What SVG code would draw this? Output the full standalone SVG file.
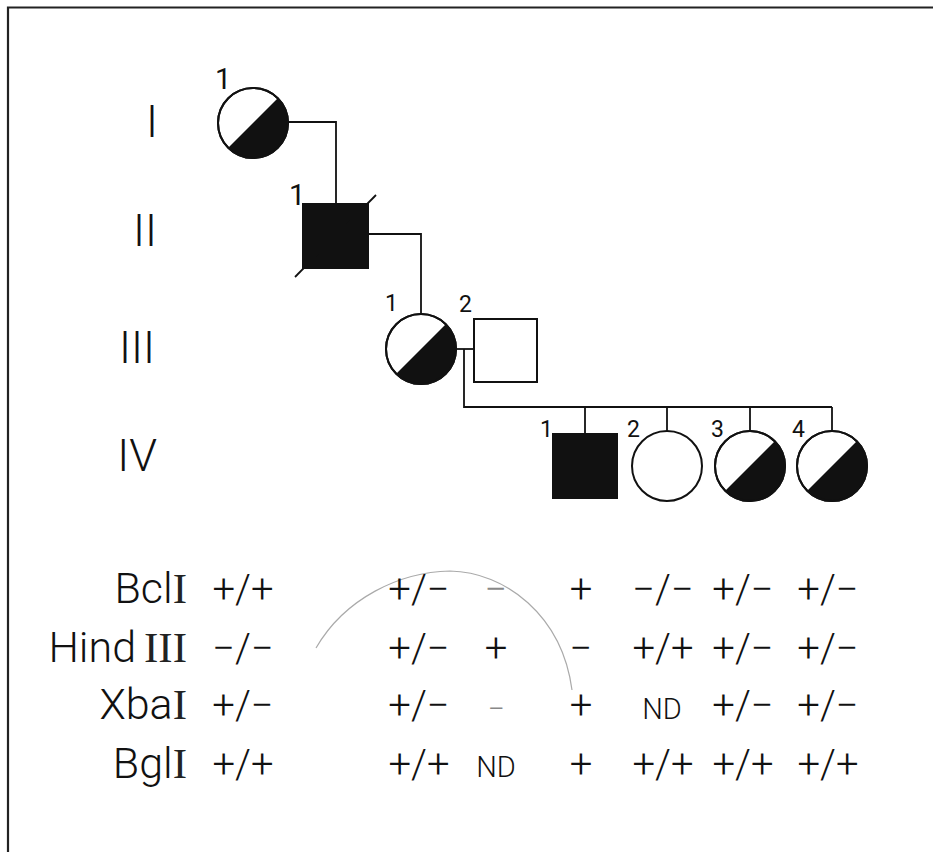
<svg xmlns="http://www.w3.org/2000/svg" xmlns:xlink="http://www.w3.org/1999/xlink" width="933" height="852" viewBox="0 0 933 852">
  <style>
    .sym { stroke: #111; stroke-width: 2; }
    .open { fill: #fff; }
    .solid { fill: #111; }
    .half { fill: #111; stroke: none; }
    .wire { fill: none; stroke: #111; stroke-width: 1.8; }
    .frame { fill: none; stroke: #222; stroke-width: 2.2; }
    .txt { font-family: Roboto, "Liberation Sans", Arial, sans-serif; font-weight: 300; fill: #111; }
    .gen { font-size: 45px; text-anchor: end; }
    .num1 { font-size: 29px; font-weight: 400; }
    .num2 { font-size: 23px; font-weight: 400; }
    .enz { font-size: 43px; text-anchor: end; }
    .rom { font-family: "Liberation Serif", "Times New Roman", serif; font-weight: normal; fill: #222; }
    .val { font-size: 40px; text-anchor: middle; }
    .nd { font-size: 29px; text-anchor: middle; }
    .faint { fill: #888; }
    .hair { fill: none; stroke: #aaa; stroke-width: 1.2; }
  </style>
  <defs>
    <!-- female, half-filled (lower-right half black) -->
    <g id="femHalf">
      <circle class="sym open" r="35"/>
      <path class="half" d="M-24.75,24.75 L24.75,-24.75 A35,35 0 0 1 -24.75,24.75 Z"/>
      <circle r="35" fill="none" stroke="#111" stroke-width="2"/>
    </g>
    <g id="femOpen">
      <circle class="sym open" r="35"/>
    </g>
  </defs>

  <rect width="933" height="852" fill="#fff"/>

  <!-- frame -->
  <path class="frame" d="M8,852 L8,7.5 L933,7.5"/>

  <!-- generation labels -->
  <g id="generations" class="txt gen">
    <text x="158" y="137">I</text>
    <text x="157" y="246">II</text>
    <text x="155" y="363">III</text>
    <text x="157" y="471">IV</text>
  </g>

  <!-- connectors -->
  <g id="connectors" class="wire">
    <path d="M288,122 H336 V204"/>
    <path d="M368,234 H421 V314"/>
    <path d="M456,349 H474"/>
    <path d="M464,349 V407 H832"/>
    <path d="M585,407 V434"/>
    <path d="M667,407 V431"/>
    <path d="M750,407 V431"/>
    <path d="M832,407 V431"/>
  </g>

  <!-- generation I -->
  <g id="I-1">
    <use xlink:href="#femHalf" x="253" y="123"/>
    <text class="txt num1" x="215" y="89">1</text>
  </g>

  <!-- generation II -->
  <g id="II-1">
    <rect class="sym solid" x="303" y="204" width="65" height="64"/>
    <line x1="295" y1="277" x2="376" y2="195" stroke="#111" stroke-width="1.8"/>
    <text class="txt num1" x="289" y="205">1</text>
  </g>

  <!-- generation III -->
  <g id="III-1">
    <use xlink:href="#femHalf" x="421" y="349"/>
    <text class="txt num2" x="385" y="311">1</text>
  </g>
  <g id="III-2">
    <rect class="sym open" x="474" y="319" width="63" height="63"/>
    <text class="txt num2" x="459" y="312">2</text>
  </g>

  <!-- generation IV -->
  <g id="IV-1">
    <rect class="sym solid" x="553" y="434" width="64" height="64"/>
    <text class="txt num2" x="540" y="437">1</text>
  </g>
  <g id="IV-2">
    <use xlink:href="#femOpen" x="667" y="466"/>
    <text class="txt num2" x="627" y="437">2</text>
  </g>
  <g id="IV-3">
    <use xlink:href="#femHalf" x="750" y="466"/>
    <text class="txt num2" x="711" y="437">3</text>
  </g>
  <g id="IV-4">
    <use xlink:href="#femHalf" x="832" y="466"/>
    <text class="txt num2" x="792" y="437">4</text>
  </g>

  <!-- stray hairline arc across the table -->
  <path class="hair" d="M316,648 C345,598 400,572 450,571 C505,572 562,615 572,690"/>

  <!-- restriction enzyme names -->
  <g id="enzymes" class="txt enz">
    <text x="187" y="603">Bcl<tspan class="rom">I</tspan></text>
    <text x="187" y="662">Hind<tspan class="rom" dx="8">III</tspan></text>
    <text x="187" y="719">Xba<tspan class="rom">I</tspan></text>
    <text x="187" y="778">Bgl<tspan class="rom">I</tspan></text>
  </g>

  <!-- genotypes per individual -->
  <g id="genotypes" class="txt val">
    <!-- I-1 -->
    <text x="243" y="603">+/+</text>
    <text x="243" y="662">−/−</text>
    <text x="243" y="719">+/−</text>
    <text x="243" y="778">+/+</text>
    <!-- III-1 -->
    <text x="419" y="603">+/−</text>
    <text x="419" y="662">+/−</text>
    <text x="419" y="719">+/−</text>
    <text x="419" y="778">+/+</text>
    <!-- III-2 -->
    <text class="faint" x="496" y="603">−</text>
    <text x="496" y="662">+</text>
    <text class="faint" x="496" y="719" font-size="30">−</text>
    <text class="nd" x="496" y="777">ND</text>
    <!-- IV-1 -->
    <text x="581" y="603">+</text>
    <text x="581" y="662">−</text>
    <text x="581" y="719">+</text>
    <text x="581" y="778">+</text>
    <!-- IV-2 -->
    <text x="663" y="603">−/−</text>
    <text x="663" y="662">+/+</text>
    <text class="nd" x="662" y="719">ND</text>
    <text x="663" y="778">+/+</text>
    <!-- IV-3 -->
    <text x="743" y="603">+/−</text>
    <text x="743" y="662">+/−</text>
    <text x="743" y="719">+/−</text>
    <text x="743" y="778">+/+</text>
    <!-- IV-4 -->
    <text x="828" y="603">+/−</text>
    <text x="828" y="662">+/−</text>
    <text x="828" y="719">+/−</text>
    <text x="828" y="778">+/+</text>
  </g>
</svg>
